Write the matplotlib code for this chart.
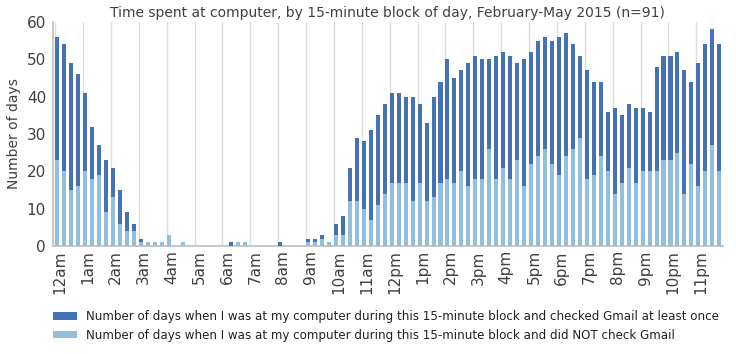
import numpy as np
import matplotlib
matplotlib.use("Agg")
import matplotlib.pyplot as plt

# total days at computer per 15-minute block (96 blocks, 12am .. 11:45pm)
total = [56, 54, 49, 46, 41, 32, 27, 23, 21, 15, 9, 6, 2, 1, 1, 1,
         3, 0, 1, 0, 0, 0, 0, 0, 0, 1, 1, 1, 0, 0, 0, 0,
         1, 0, 0, 0, 2, 2, 3, 1, 6, 8, 21, 29, 28, 31, 35, 38,
         41, 41, 40, 40, 38, 33, 40, 44, 50, 45, 47, 49, 51, 50, 50, 51,
         52, 51, 49, 50, 52, 55, 56, 55, 56, 57, 54, 51, 47, 44, 44, 36,
         37, 35, 38, 37, 37, 36, 48, 51, 51, 52, 47, 44, 49, 54, 58, 54]
# days at computer without checking Gmail
no_gmail = [23, 20, 15, 16, 20, 18, 19, 9, 13, 6, 4, 4, 1, 1, 1, 1,
            3, 0, 1, 0, 0, 0, 0, 0, 0, 0, 1, 1, 0, 0, 0, 0,
            0, 0, 0, 0, 1, 1, 2, 1, 3, 3, 12, 12, 10, 7, 11, 14,
            17, 17, 17, 12, 17, 12, 13, 17, 18, 17, 20, 16, 18, 18, 26, 18,
            21, 18, 23, 16, 22, 24, 26, 22, 19, 24, 26, 29, 18, 19, 24, 20,
            14, 17, 21, 17, 20, 20, 20, 23, 23, 25, 14, 22, 16, 20, 27, 20]
hour_labels = ["12am", "1am", "2am", "3am", "4am", "5am", "6am", "7am",
               "8am", "9am", "10am", "11am", "12pm", "1pm", "2pm", "3pm",
               "4pm", "5pm", "6pm", "7pm", "8pm", "9pm", "10pm", "11pm"]

total = np.array(total)
no_gmail = np.array(no_gmail)
checked = total - no_gmail
x = np.arange(len(total))

dark = "#4472B4"
light = "#93BFDD"
txt = "#404040"

fig = plt.figure(figsize=(7.36, 3.54), dpi=100)
ax = fig.add_axes([0.072, 0.305, 0.91, 0.633])

w = 0.58
b1 = ax.bar(x, checked, w, bottom=no_gmail, color=dark, zorder=3,
            label="Number of days when I was at my computer during this 15-minute block and checked Gmail at least once")
b2 = ax.bar(x, no_gmail, w, color=light, zorder=3,
            label="Number of days when I was at my computer during this 15-minute block and did NOT check Gmail")

for h in range(0, 96, 4):
    ax.axvline(h - w / 2, color="#dddddd", lw=1, zorder=1)

ax.set_xlim(-0.6, 95.5)
ax.set_ylim(0, 60)
ax.set_yticks(range(0, 61, 10))
ax.set_xticks(np.arange(0, 96, 4) + 0.4)
ax.set_xticklabels(hour_labels, rotation=90)
ax.tick_params(axis="both", length=0, colors=txt, labelsize=11)
ax.tick_params(axis="x", pad=3)
ax.tick_params(axis="y", pad=5)

for s in ["top", "right"]:
    ax.spines[s].set_visible(False)
for s in ["left", "bottom"]:
    ax.spines[s].set_color("#bfbfbf")
    ax.spines[s].set_linewidth(1.2)

ax.set_ylabel("Number of days", color=txt, fontsize=10)
fig.text(0.527, 0.962,
         "Time spent at computer, by 15-minute block of day, February-May 2015 (n=91)",
         color=txt, fontsize=10, ha="center", va="center")

fig.legend(handles=[b1, b2], loc="lower left", bbox_to_anchor=(0.058, 0.004),
           frameon=False, fontsize=8.6, handlelength=2.0, handleheight=0.6,
           labelspacing=0.47, handletextpad=0.7, labelcolor="#222222")

fig.savefig("out.png", dpi=100)
